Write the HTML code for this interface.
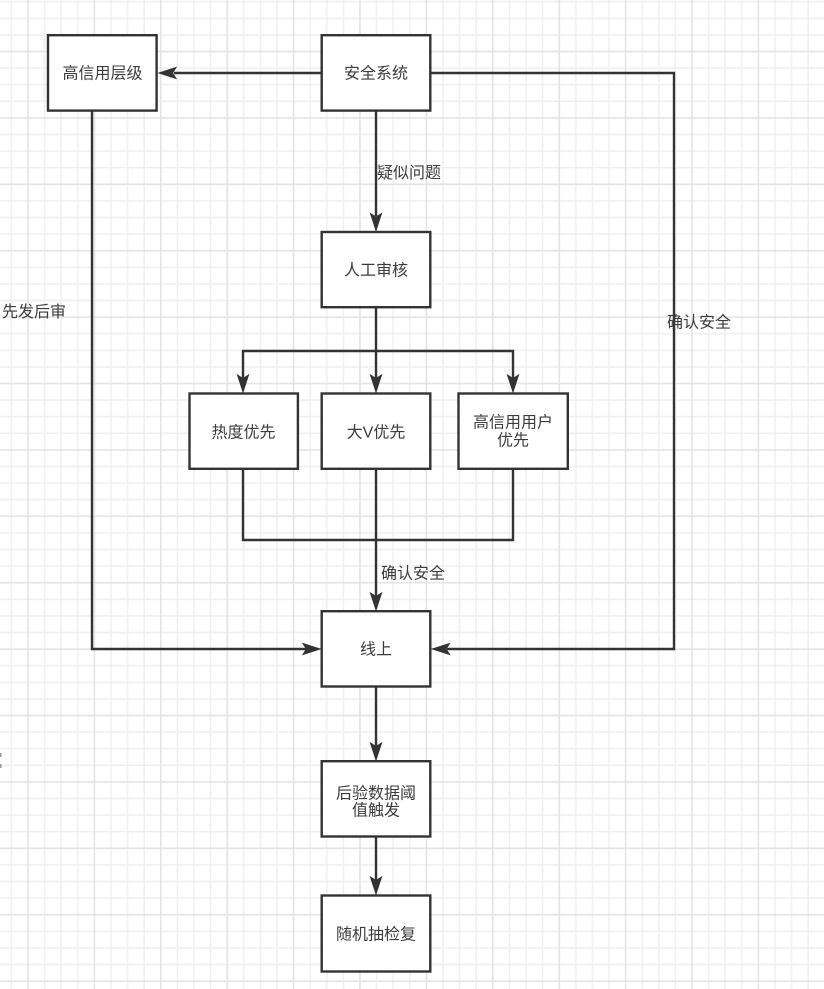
<!DOCTYPE html>
<html>
<head>
<meta charset="utf-8">
<style>
html,body{margin:0;padding:0;background:#fff;}
svg{display:block;}
text{font-family:"Liberation Sans","Noto Sans CJK SC",sans-serif;font-size:16px;fill:#3c3c3c;}
</style>
</head>
<body>
<svg width="824" height="989" viewBox="0 0 824 989" xmlns="http://www.w3.org/2000/svg">
<defs>
<pattern id="grid" patternUnits="userSpaceOnUse" x="19.7" y="43.2" width="66.4" height="66.4">
<g stroke="#f0f0f0" stroke-width="1.6">
<line x1="24.9" y1="0" x2="24.9" y2="66.4"/>
<line x1="41.5" y1="0" x2="41.5" y2="66.4"/>
<line x1="58.1" y1="0" x2="58.1" y2="66.4"/>
<line x1="0" y1="24.9" x2="66.4" y2="24.9"/>
<line x1="0" y1="41.5" x2="66.4" y2="41.5"/>
<line x1="0" y1="58.1" x2="66.4" y2="58.1"/>
</g>
<g stroke="#e4e4e4" stroke-width="1.6">
<line x1="8.3" y1="0" x2="8.3" y2="66.4"/>
<line x1="0" y1="8.3" x2="66.4" y2="8.3"/>
</g>
</pattern>
</defs>
<rect x="0" y="0" width="824" height="989" fill="#fff"/>
<rect x="0" y="0" width="824" height="989" fill="url(#grid)"/>

<g stroke="#333" stroke-width="2.4" fill="none">
<line x1="321" y1="73" x2="174" y2="73"/>
<line x1="376" y1="111" x2="376" y2="216"/>
<line x1="376" y1="308" x2="376" y2="378"/>
<polyline points="243,378 243,351 513,351 513,378"/>
<polyline points="243,470 243,540 513,540 513,470"/>
<line x1="376" y1="470" x2="376" y2="596"/>
<polyline points="92,111 92,649 306,649"/>
<polyline points="431,73 674,73 674,649 447,649"/>
<line x1="376" y1="687" x2="376" y2="746"/>
<line x1="376" y1="837" x2="376" y2="880"/>
</g>

<g fill="#333" stroke="#333" stroke-width="1" stroke-linejoin="miter">
<path d="M159,73 L176,67.5 L172.5,73 L176,78.5 Z"/>
<path d="M376,230.5 L370.5,213.5 L376,217 L381.5,213.5 Z"/>
<path d="M243,392 L237.5,375 L243,378.5 L248.5,375 Z"/>
<path d="M376,392 L370.5,375 L376,378.5 L381.5,375 Z"/>
<path d="M513,392 L507.5,375 L513,378.5 L518.5,375 Z"/>
<path d="M376,610 L370.5,593 L376,596.5 L381.5,593 Z"/>
<path d="M320,649 L303,643.5 L306.5,649 L303,654.5 Z"/>
<path d="M432.5,649 L449.5,643.5 L446,649 L449.5,654.5 Z"/>
<path d="M376,760 L370.5,743 L376,746.5 L381.5,743 Z"/>
<path d="M376,894 L370.5,877 L376,880.5 L381.5,877 Z"/>
</g>

<g fill="#fff" stroke="#333" stroke-width="2.4">
<rect x="48" y="35.2" width="108.6" height="75.4"/>
<rect x="321.7" y="35.2" width="108.6" height="75.4"/>
<rect x="321.7" y="232" width="108.6" height="75.2"/>
<rect x="189.5" y="393.5" width="108.4" height="75.3"/>
<rect x="321.7" y="393.5" width="108.6" height="75.3"/>
<rect x="458.5" y="393.5" width="109.3" height="75.3"/>
<rect x="321.7" y="611.2" width="108.6" height="75.3"/>
<rect x="321.7" y="761.2" width="108.6" height="75.3"/>
<rect x="321.7" y="895.5" width="108.6" height="76"/>
</g>

<g text-anchor="middle" dominant-baseline="central">
<text x="102.5" y="74">高信用层级</text>
<text x="376" y="74">安全系统</text>
<text x="376" y="271">人工审核</text>
<text x="243.5" y="433">热度优先</text>
<text x="376" y="433">大V优先</text>
<text x="513" y="423">高信用用户</text>
<text x="513" y="441">优先</text>
<text x="376" y="650">线上</text>
<text x="376" y="794">后验数据阈</text>
<text x="376" y="811">值触发</text>
<text x="376" y="935">随机抽检复</text>
</g>

<g dominant-baseline="central">
<text x="377" y="173.5">疑似问题</text>
<text x="2" y="312.5">先发后审</text>
<text x="667" y="323">确认安全</text>
<text x="381" y="574">确认安全</text>
</g>

<rect x="0" y="753" width="1.5" height="4" fill="#999"/>
<rect x="0" y="764" width="1.5" height="4" fill="#999"/>
</svg>
</body>
</html>
